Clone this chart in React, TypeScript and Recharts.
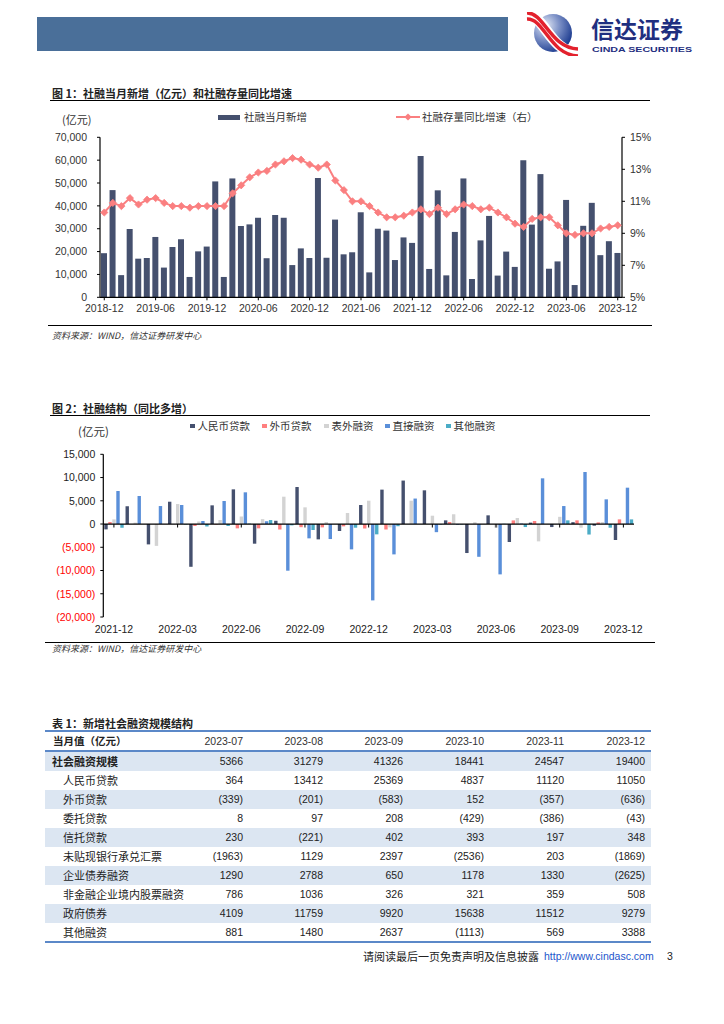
import React from "react";
import { ComposedChart, BarChart, Bar, Line, XAxis, YAxis, ReferenceLine } from "recharts";

// ---------- Chart 1 data ----------
const months1 = [
  "2018-12", "2019-01", "2019-02", "2019-03", "2019-04", "2019-05", "2019-06", "2019-07", "2019-08", "2019-09", "2019-10", "2019-11",
  "2019-12", "2020-01", "2020-02", "2020-03", "2020-04", "2020-05", "2020-06", "2020-07", "2020-08", "2020-09", "2020-10", "2020-11",
  "2020-12", "2021-01", "2021-02", "2021-03", "2021-04", "2021-05", "2021-06", "2021-07", "2021-08", "2021-09", "2021-10", "2021-11",
  "2021-12", "2022-01", "2022-02", "2022-03", "2022-04", "2022-05", "2022-06", "2022-07", "2022-08", "2022-09", "2022-10", "2022-11",
  "2022-12", "2023-01", "2023-02", "2023-03", "2023-04", "2023-05", "2023-06", "2023-07", "2023-08", "2023-09", "2023-10", "2023-11",
  "2023-12",
];
const tsfNew = [
  19300, 46900, 9700, 29900, 16900, 17200, 26400, 13000, 22000, 25400, 8900, 20100,
  22200, 50700, 8900, 52000, 31200, 31900, 34800, 17100, 36000, 34800, 14100, 21400,
  17200, 52200, 17300, 34000, 18800, 19700, 37200, 10900, 30000, 29200, 16300, 26200,
  23800, 61800, 12400, 46800, 9600, 28600, 52000, 8000, 24900, 35600, 9500, 20000,
  13300, 60000, 31800, 53900, 12500, 15700, 42600, 5366, 31279, 41326, 18441, 24547,
  19400,
];
const tsfGrowth = [
  10.3, 10.9, 10.7, 11.2, 10.8, 11.1, 11.2, 10.9, 10.7, 10.7, 10.6, 10.7,
  10.7, 10.7, 10.7, 11.5, 12.0, 12.5, 12.8, 12.9, 13.3, 13.5, 13.7, 13.6,
  13.3, 13.1, 13.3, 12.3, 11.7, 11.0, 11.0, 10.7, 10.3, 10.0, 10.0, 10.1,
  10.3, 10.5, 10.2, 10.6, 10.2, 10.5, 10.8, 10.7, 10.5, 10.6, 10.3, 10.0,
  9.6, 9.4, 9.9, 10.0, 10.0, 9.5, 9.0, 8.9, 9.0, 9.0, 9.3, 9.4,
  9.5,
];
const leftTicks1 = [0, 10000, 20000, 30000, 40000, 50000, 60000, 70000];
const rightTicks1 = [5, 7, 9, 11, 13, 15];

// ---------- Chart 2 data ----------
const months2 = [
  "2021-12", "2022-01", "2022-02", "2022-03", "2022-04", "2022-05", "2022-06", "2022-07", "2022-08", "2022-09", "2022-10", "2022-11",
  "2022-12", "2023-01", "2023-02", "2023-03", "2023-04", "2023-05", "2023-06", "2023-07", "2023-08", "2023-09", "2023-10", "2023-11",
  "2023-12",
];
const rmbLoans = [-1150, 3850, -4380, 4800, -9200, 4020, 7460, -4230, 700, 7960, -3300, -1500, 4090, 7400, 9350, 7250, 790, -6240, 1870, -3870, 300, -650, 400, -360, -3440];
const fxLoans = [430, 0, 0, 0, -430, -100, -930, -930, -1180, -680, -720, -500, -960, -1180, 0, 0, 430, 0, 0, 780, 650, 0, 790, 360, 1000];
const offBalance = [1000, 300, -4700, 4300, 550, 860, 1620, 1050, 5880, 3590, 430, 2370, 5020, -720, 5020, 1790, 2100, 400, -790, 1300, -3730, 1550, -790, 430, 100];
const directFin = [7100, 6030, 3870, 4100, 650, 4950, 6820, 600, -10040, -3080, -3230, -5450, -16430, -6530, 5480, -1750, -150, -7050, -10830, 100, 9830, 3870, 11190, 5310, 7820];
const otherFin = [-800, 0, 0, -100, -530, -430, 100, 860, -290, -1290, 0, -790, -2220, -470, 0, -100, -100, 0, 50, -650, 0, 790, -2260, -790, 1000];
const yTicks2 = [-20000, -15000, -10000, -5000, 0, 5000, 10000, 15000];

// ---------- Table data ----------
const tableCols = ["2023-07", "2023-08", "2023-09", "2023-10", "2023-11", "2023-12"];
const tableLabels = ["社会融资规模", "人民币贷款", "外币贷款", "委托贷款", "信托贷款", "未贴现银行承兑汇票", "企业债券融资", "非金融企业境内股票融资", "政府债券", "其他融资"];
const rowTotal = [5366, 31279, 41326, 18441, 24547, 19400];
const rowRmb = [364, 13412, 25369, 4837, 11120, 11050];
const rowFx = [-339, -201, -583, 152, -357, -636];
const rowEntrusted = [8, 97, 208, -429, -386, -43];
const rowTrust = [230, -221, 402, 393, 197, 348];
const rowBills = [-1963, 1129, 2397, -2536, 203, -1869];
const rowBonds = [1290, 2788, 650, 1178, 1330, -2625];
const rowEquity = [786, 1036, 326, 321, 359, 508];
const rowGov = [4109, 11759, 9920, 15638, 11512, 9279];
const rowOther = [881, 1480, 2637, -1113, 569, 3388];
const tableValues = [rowTotal, rowRmb, rowFx, rowEntrusted, rowTrust, rowBills, rowBonds, rowEquity, rowGov, rowOther];

const data1 = months1.map((m, i) => ({ m, v: tsfNew[i], g: tsfGrowth[i] }));
const data2 = months2.map((m, i) => ({ m, a: rmbLoans[i], b: fxLoans[i], c: offBalance[i], d: directFin[i], e: otherFin[i] }));

const SANS = "'Liberation Sans', Arial, sans-serif";
const CJK = "'Noto Sans CJK SC', 'Liberation Sans', sans-serif";
const NAVY = "#45506e";
const PINK = "#fa7f80";
const C_RED = "#ff7f7f";
const C_GRAY = "#d3d3d3";
const C_BLUE = "#5a8fd9";
const C_TEAL = "#4bacc6";
const TBL_BLUE = "#5b88c8";

const fmtNum = (v: number) => v.toLocaleString("en-US");
const fmtParen = (v: number) => (v < 0 ? `(${Math.abs(v)})` : `${v}`);

const Diamond = (props: any) => {
  const { cx, cy, index } = props;
  if (cx == null || cy == null) return <g key={`dd-${index}`} />;
  const r = 3.6;
  return (
    <path
      key={`d-${index}`}
      d={`M${cx},${cy - r} L${cx + r},${cy} L${cx},${cy + r} L${cx - r},${cy} Z`}
      fill={PINK}
      stroke={PINK}
      strokeWidth={0.8}
    />
  );
};

const Y2Tick = (props: any) => {
  const { x, y, payload } = props;
  const v = payload.value as number;
  const neg = v < 0;
  const txt = neg ? `(${fmtNum(Math.abs(v))})` : fmtNum(v);
  return (
    <text x={x} y={y} dy={3.8} textAnchor="end" fontSize={10.5} fontFamily={SANS} fill={neg ? "#ff0000" : "#222"}>
      {txt}
    </text>
  );
};

// zero-line y inside chart 2 (chart coordinates) for the small month tick marks
const ZERO_Y2 = 84;
const X2Tick = (props: any) => {
  const { x, y, payload } = props;
  return (
    <g>
      <line x1={x} x2={x} y1={ZERO_Y2} y2={ZERO_Y2 + 3.5} stroke="#000" strokeWidth={1} />
      <text x={x} y={y} dy={8} textAnchor="middle" fontSize={10.5} fontFamily={SANS} fill="#222">
        {payload.value}
      </text>
    </g>
  );
};

const T = (p: { x: number; y: number; size?: number; bold?: boolean; color?: string; italic?: boolean; font?: string; children: React.ReactNode; align?: "left" | "right"; w?: number }) => (
  <div
    style={{
      position: "absolute",
      left: p.x,
      top: p.y - 8,
      height: 16,
      lineHeight: "16px",
      width: p.w,
      textAlign: p.align || "left",
      fontSize: p.size || 11,
      fontWeight: p.bold ? 700 : 400,
      fontStyle: p.italic ? "italic" : "normal",
      color: p.color || "#222",
      fontFamily: p.font || CJK,
      whiteSpace: "nowrap",
    }}
  >
    {p.children}
  </div>
);

const HLine = ({ x, y, w, h, color }: { x: number; y: number; w: number; h: number; color?: string }) => (
  <div style={{ position: "absolute", left: x, top: y, width: w, height: h, background: color || "#000" }} />
);

const Logo = () => (
  <svg style={{ position: "absolute", left: 520, top: 12 }} width={185} height={44}>
    <defs>
      <radialGradient id="lg" cx="30%" cy="30%" r="80%">
        <stop offset="0%" stopColor="#e6ebf6" />
        <stop offset="45%" stopColor="#7f93c8" />
        <stop offset="100%" stopColor="#13338a" />
      </radialGradient>
    </defs>
    <circle cx={33} cy={21} r={19} fill="url(#lg)" />
    <path d="M7,3 C24,2 30,40 58,41" stroke="#fff" strokeWidth={11} fill="none" />
    <path d="M7,1 C24,0 30,36 58,37" stroke="#e3212d" strokeWidth={3.5} fill="none" />
    <path d="M7,7 C24,6 30,43 58,44" stroke="#e3212d" strokeWidth={3.5} fill="none" />
    <text x={71} y={26} fontSize={23} fontWeight={700} fill="#1f2f80" fontFamily={CJK}>信达证券</text>
    <text x={72} y={39.5} fontSize={8} fontWeight={700} fill="#1f2f80" fontFamily={SANS} textLength={100} lengthAdjust="spacingAndGlyphs">CINDA SECURITIES</text>
  </svg>
);

const colRight = [243, 323, 403, 484, 564, 645];

const Table = () => (
  <>
    <HLine x={45} y={730} w={606} h={2} color={TBL_BLUE} />
    <T x={53} y={741} size={10.5} bold>当月值（亿元）</T>
    {tableCols.map((c, k) => (
      <T key={c} x={colRight[k] - 70} w={70} align="right" y={741} size={10.5} font={SANS} color="#333">{c}</T>
    ))}
    <HLine x={45} y={750} w={606} h={1.5} color={TBL_BLUE} />
    {tableLabels.map((lab, r) => (
      <React.Fragment key={lab}>
        <div style={{ position: "absolute", left: 45, top: 751.5 + 19 * r, width: 606, height: 19, background: r % 2 === 0 ? "#dce6f2" : "#fff" }} />
        <T x={r === 0 ? 52 : 63} y={761 + 19 * r} size={11} bold={r === 0}>{lab}</T>
        {tableValues[r].map((v, k) => (
          <T key={k} x={colRight[k] - 70} w={70} align="right" y={761 + 19 * r} size={10.5} font={SANS}>{fmtParen(v)}</T>
        ))}
      </React.Fragment>
    ))}
    <HLine x={45} y={941} w={606} h={2} color={TBL_BLUE} />
  </>
);

export default function App() {
  return (
    <div style={{ position: "absolute", left: 0, top: 0, width: 724, height: 1024, background: "#fff", overflow: "hidden" }}>
      {/* header */}
      <div style={{ position: "absolute", left: 37, top: 17, width: 471, height: 34, background: "#4a6f99" }} />
      <Logo />

      {/* Chart 1 */}
      <T x={52} y={93} size={11} bold>图 1：社融当月新增（亿元）和社融存量同比增速</T>
      <HLine x={50} y={99.5} w={600} h={1.5} />
      <T x={62} y={119} size={11} color="#333">(亿元)</T>
      <div style={{ position: "absolute", left: 218, top: 114.5, width: 22, height: 5, background: NAVY }} />
      <T x={244} y={117} size={10.5} color="#333">社融当月新增</T>
      <svg style={{ position: "absolute", left: 396, top: 111 }} width={26} height={12}>
        <line x1={0} y1={6} x2={24} y2={6} stroke={PINK} strokeWidth={2} />
        <path d="M12,2.4 L15.6,6 L12,9.6 L8.4,6 Z" fill={PINK} />
      </svg>
      <T x={422} y={117} size={10.5} color="#333">社融存量同比增速（右）</T>
      <div style={{ position: "absolute", left: 0, top: 128 }}>
        <ComposedChart width={724} height={200} data={data1} margin={{ top: 9.3, right: 62, bottom: 12.7, left: 40 }}>
          <XAxis
            dataKey="m"
            interval={5}
            height={18}
            tickSize={3}
            tickMargin={4}
            axisLine={{ stroke: "#000", strokeWidth: 1.2 }}
            tickLine={{ stroke: "#000" }}
            tick={{ fontSize: 10.5, fill: "#333", fontFamily: SANS }}
          />
          <YAxis
            yAxisId="left"
            orientation="left"
            width={60}
            domain={[0, 70000]}
            ticks={leftTicks1}
            interval={0}
            tickFormatter={fmtNum}
            tickSize={3}
            tickMargin={10}
            axisLine={{ stroke: "#000", strokeWidth: 1.2 }}
            tickLine={{ stroke: "#000" }}
            tick={{ fontSize: 10.5, fill: "#333", fontFamily: SANS }}
          />
          <YAxis
            yAxisId="right"
            orientation="right"
            width={40}
            domain={[5, 15]}
            ticks={rightTicks1}
            interval={0}
            tickFormatter={(v: number) => `${v}%`}
            tickSize={3}
            tickMargin={5}
            axisLine={{ stroke: "#000", strokeWidth: 1.2 }}
            tickLine={{ stroke: "#000" }}
            tick={{ fontSize: 10.5, fill: "#333", fontFamily: SANS }}
          />
          <Bar yAxisId="left" dataKey="v" fill={NAVY} barSize={6} isAnimationActive={false} />
          <Line yAxisId="right" dataKey="g" stroke={PINK} strokeWidth={2} dot={Diamond} activeDot={false} isAnimationActive={false} />
        </ComposedChart>
      </div>
      <HLine x={48} y={325} w={604} h={1} />
      <T x={52} y={336} size={9} italic color="#333">资料来源：WIND，信达证券研发中心</T>

      {/* Chart 2 */}
      <T x={52} y={408} size={11} bold>图 2：社融结构（同比多增）</T>
      <HLine x={50} y={414.5} w={600} h={1.5} />
      <T x={78} y={431} size={11.5} color="#333">(亿元)</T>
      {[
        { c: NAVY, t: "人民币贷款", x: 190 },
        { c: C_RED, t: "外币贷款", x: 262 },
        { c: C_GRAY, t: "表外融资", x: 324 },
        { c: C_BLUE, t: "直接融资", x: 385 },
        { c: C_TEAL, t: "其他融资", x: 446 },
      ].map((it) => (
        <React.Fragment key={it.t}>
          <div style={{ position: "absolute", left: it.x, top: 423.5, width: 4.5, height: 4.5, background: it.c }} />
          <T x={it.x + 7.5} y={425.5} size={10.5} color="#333">{it.t}</T>
        </React.Fragment>
      ))}
      <div style={{ position: "absolute", left: 0, top: 440 }}>
        <BarChart width={724} height={200} data={data2} margin={{ top: 14.3, right: 90, bottom: 5, left: 40 }} barGap={0.6}>
          <XAxis
            dataKey="m"
            interval={2}
            height={18}
            tickSize={4}
            tickMargin={4}
            axisLine={false}
            tickLine={false}
            tick={<X2Tick />}
          />
          <YAxis
            width={63.3}
            domain={[-20000, 15000]}
            ticks={yTicks2}
            interval={0}
            tickSize={3}
            tickMargin={5}
            axisLine={{ stroke: "#000", strokeWidth: 1.2 }}
            tickLine={{ stroke: "#000" }}
            tick={<Y2Tick />}
          />
          <Bar dataKey="a" fill={NAVY} barSize={3.4} isAnimationActive={false} />
          <Bar dataKey="b" fill={C_RED} barSize={3.4} isAnimationActive={false} />
          <Bar dataKey="c" fill={C_GRAY} barSize={3.4} isAnimationActive={false} />
          <Bar dataKey="d" fill={C_BLUE} barSize={3.4} isAnimationActive={false} />
          <Bar dataKey="e" fill={C_TEAL} barSize={3.4} isAnimationActive={false} />
          <ReferenceLine y={0} stroke="#000" strokeWidth={1.3} ifOverflow="extendDomain" />
        </BarChart>
      </div>
      <HLine x={45} y={641.5} w={610} h={1} />
      <T x={52} y={649} size={9} italic color="#333">资料来源：WIND，信达证券研发中心</T>

      {/* Table */}
      <T x={52} y={723} size={11} bold>表 1：新增社会融资规模结构</T>
      <Table />

      {/* Footer */}
      <T x={363} y={956} size={11} color="#222">请阅读最后一页免责声明及信息披露</T>
      <T x={544} y={956} size={10.5} font={SANS} color="#2255cc">http://www.cindasc.com</T>
      <T x={667} y={956} size={10.5} font={SANS} color="#222">3</T>
    </div>
  );
}
